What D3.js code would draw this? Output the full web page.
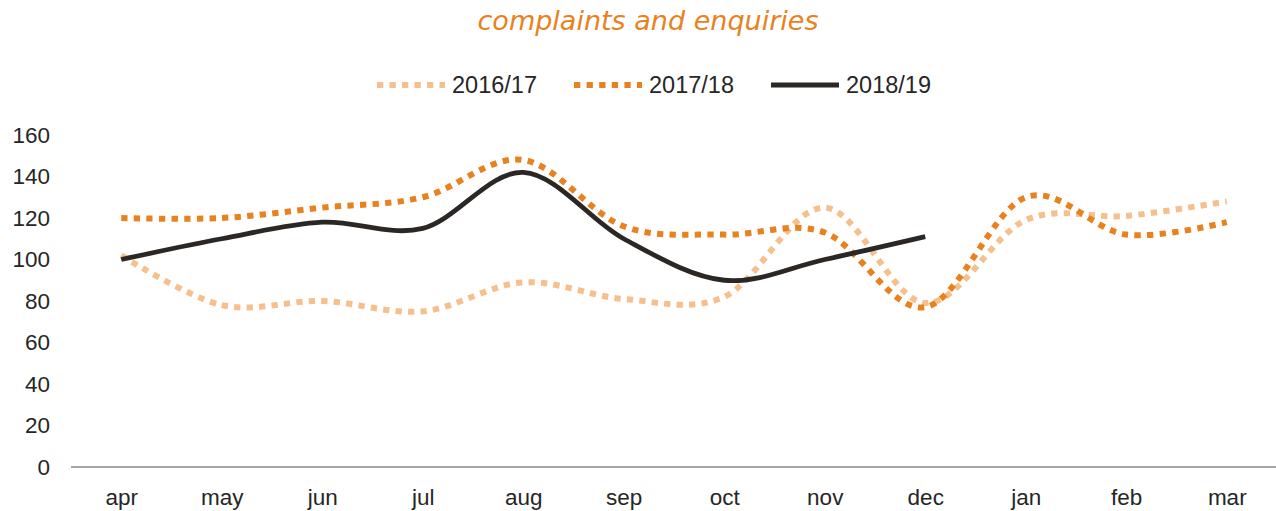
<!DOCTYPE html>
<html><head><meta charset="utf-8">
<script src="https://cdn.jsdelivr.net/npm/d3@7"></script>
<style>body{margin:0;background:#fff}svg{display:block}</style>
</head><body>
<script>
const months = ["apr","may","jun","jul","aug","sep","oct","nov","dec","jan","feb","mar"];
const s2016 = [102,78,80,75,89,81,82,125,79,119,121,128];
const s2017 = [120,120,125,130,148,116,112,113,77,130,112,118];
const s2018 = [100,110,118,115,142,110,90,100,111];
const seriesNames = ["2016/17","2017/18","2018/19"];
const yTicks = [0,20,40,60,80,100,120,140,160];

const W=1276,H=511;
const svg=d3.select("body").append("svg").attr("width",W).attr("height",H);
const font="'Liberation Sans', Arial, sans-serif";
const x=d3.scalePoint().domain(months).range([71,1277]).padding(0.5);
const y=d3.scaleLinear().domain([0,160]).range([467,135]);

svg.append("text").attr("x",648).attr("y",30).attr("text-anchor","middle")
  .attr("font-family","'DejaVu Sans', sans-serif").attr("font-style","italic").attr("font-size",27)
  .attr("fill","#E8821E").attr("textLength",341).attr("lengthAdjust","spacingAndGlyphs")
  .text("complaints and enquiries");

// y axis labels
const ya=svg.append("g").attr("transform","translate(50,0)")
  .call(d3.axisLeft(y).tickValues(yTicks).tickSize(0).tickPadding(0));
ya.select(".domain").remove();
ya.selectAll("text").attr("font-family",font).attr("font-size",22.5).attr("fill","#262626");

// x axis
const xa=svg.append("g").attr("transform","translate(0,467)")
  .call(d3.axisBottom(x).tickSize(0).tickPadding(22));
xa.select(".domain").attr("stroke","#A6A6A6").attr("stroke-width",2).attr("d","M71,0H1277");
xa.selectAll("text").attr("font-family",font).attr("font-size",22.5).attr("fill","#262626");

const styles=[
  {color:"#F5C08E",w:6,dash:"6.3,6.2"},
  {color:"#E8821E",w:6,dash:"6.3,6.3"},
  {color:"#2B2724",w:4.8,dash:null}
];
const data=[s2016,s2017,s2018];
const line=d3.line().x((d,i)=>x(months[i])).y(d=>y(d)).curve(d3.curveCardinal.tension(0));
data.forEach((s,k)=>{
  svg.append("path").attr("d",line(s)).attr("fill","none")
    .attr("stroke",styles[k].color).attr("stroke-width",styles[k].w)
    .attr("stroke-dasharray",styles[k].dash);
});

// legend
const lx=[377,574,771];
seriesNames.forEach((n,k)=>{
  svg.append("line").attr("x1",lx[k]).attr("x2",lx[k]+68).attr("y1",85).attr("y2",85)
    .attr("stroke",styles[k].color).attr("stroke-width",styles[k].w).attr("stroke-dasharray",styles[k].dash);
  svg.append("text").attr("x",lx[k]+75).attr("y",85).attr("dy","0.35em")
    .attr("font-family",font).attr("font-size",23.5).attr("fill","#262626").text(n);
});
</script>
</body></html>
